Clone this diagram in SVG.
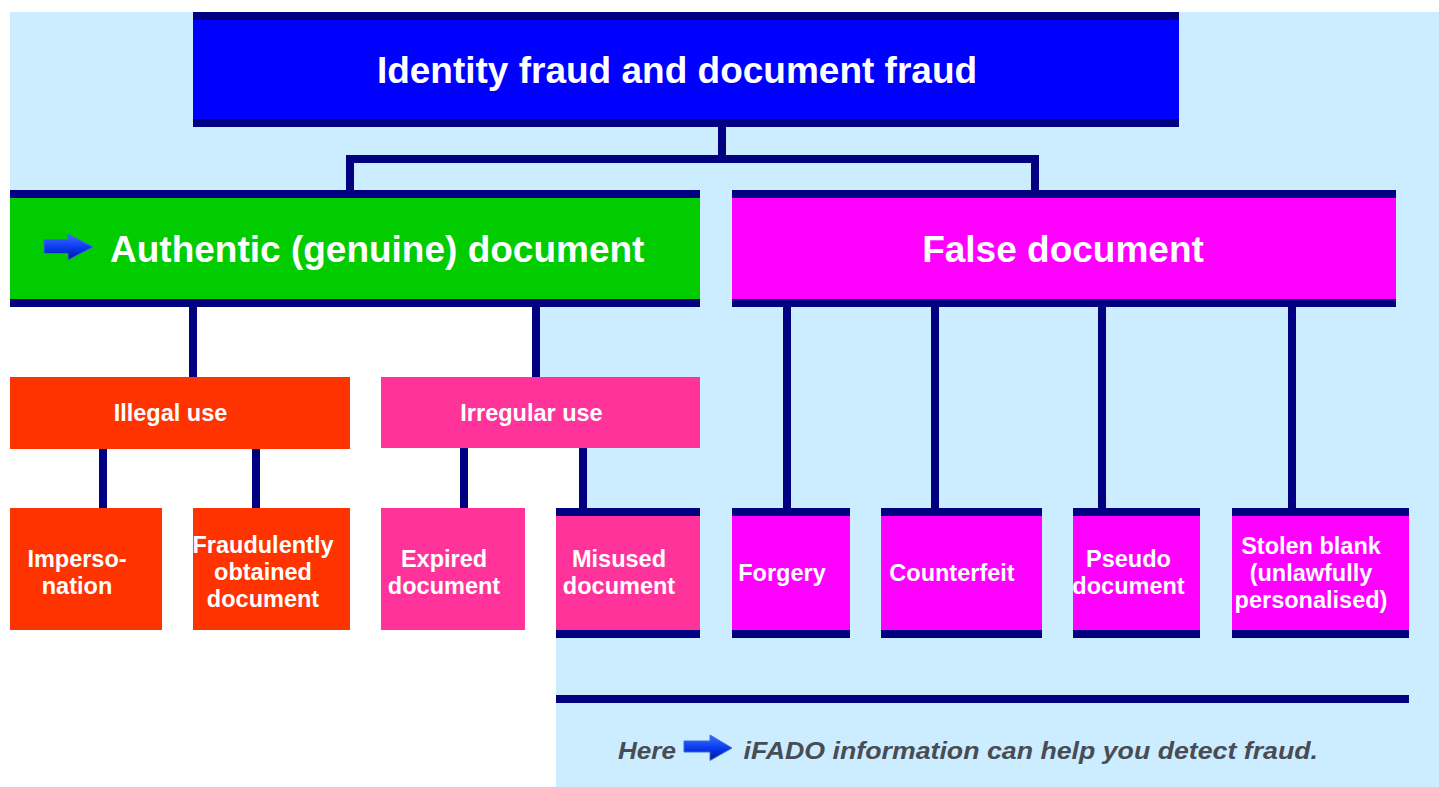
<svg xmlns="http://www.w3.org/2000/svg" width="1439" height="787" viewBox="0 0 1439 787">
<defs>
<style>
.bar{fill:#000080}
.t{font-family:"Liberation Sans",Arial,sans-serif;font-weight:bold;fill:#FFFFFF}
.big{font-size:37px}
.sm{font-size:23.5px;text-anchor:middle}
.mid{text-anchor:middle}
.con{stroke:#000080;stroke-width:8;fill:none;stroke-linejoin:miter}
.foot{font-family:"Liberation Sans",Arial,sans-serif;font-weight:bold;font-style:italic;font-size:23.5px;fill:#474C55}
.arrow{fill:url(#ag);stroke:#3a6fd0;stroke-width:1}
</style>
<linearGradient id="ag" x1="0" y1="0" x2="0" y2="1">
<stop offset="0" stop-color="#3f6dff"/>
<stop offset="0.5" stop-color="#0a3cf0"/>
<stop offset="1" stop-color="#00149a"/>
</linearGradient>
</defs>
<rect width="1439" height="787" fill="#FFFFFF"/>
<path d="M10,12 H1439 V787 H556 V508 H583 V377 H536 V307 H10 Z" fill="#CCECFF"/>
<g id="connectors">
<path class="con" d="M722,127 V159"/>
<path class="con" d="M350,190 V159 H1035 V190"/>
<path class="con" d="M193,307 V377"/>
<path class="con" d="M536,307 V377"/>
<path class="con" d="M103,449 V508"/>
<path class="con" d="M256,449 V508"/>
<path class="con" d="M464,448 V508"/>
<path class="con" d="M583,448 V508"/>
<path class="con" d="M787,307 V508"/>
<path class="con" d="M935,307 V508"/>
<path class="con" d="M1102,307 V508"/>
<path class="con" d="M1292,307 V508"/>
</g>
<g id="title">
<rect class="bar" x="193" y="12" width="986" height="115"/>
<rect x="193" y="20" width="986" height="99" fill="#0000FF"/>
<text class="t big mid" x="677" y="83">Identity fraud and document fraud</text>
</g>
<g id="authentic">
<rect class="bar" x="10" y="190" width="690" height="117"/>
<rect x="10" y="198" width="690" height="101" fill="#00CC00"/>
<polygon class="arrow" points="44,239.5 68,239.5 68,234 93,247 68,260 68,253.5 44,253.5"/>
<text class="t big" x="110" y="262">Authentic (genuine) document</text>
</g>
<g id="false">
<rect class="bar" x="732" y="190" width="664" height="117"/>
<rect x="732" y="198" width="664" height="101" fill="#FF00FF"/>
<text class="t big mid" x="1063" y="262">False document</text>
</g>
<g id="illegal">
<rect x="10" y="377" width="340" height="72" fill="#FF3300"/>
<text class="t sm" x="170.5" y="421">Illegal use</text>
</g>
<g id="irregular">
<rect x="381" y="377" width="319" height="71" fill="#FF3399"/>
<text class="t sm" x="531.5" y="421">Irregular use</text>
</g>
<g id="impersonation">
<rect x="10" y="508" width="152" height="122" fill="#FF3300"/>
<text class="t sm" x="77" y="567">Imperso-</text>
<text class="t sm" x="77" y="594">nation</text>
</g>
<g id="fraudulently">
<rect x="193" y="508" width="157" height="122" fill="#FF3300"/>
<text class="t sm" x="263" y="553">Fraudulently</text>
<text class="t sm" x="263" y="580">obtained</text>
<text class="t sm" x="263" y="607">document</text>
</g>
<g id="expired">
<rect x="381" y="508" width="144" height="122" fill="#FF3399"/>
<text class="t sm" x="444" y="567">Expired</text>
<text class="t sm" x="444" y="594">document</text>
</g>
<g id="misused">
<rect class="bar" x="556" y="508" width="144" height="130"/>
<rect x="556" y="516" width="144" height="114" fill="#FF3399"/>
<text class="t sm" x="619" y="567">Misused</text>
<text class="t sm" x="619" y="594">document</text>
</g>
<g id="forgery">
<rect class="bar" x="732" y="508" width="118" height="130"/>
<rect x="732" y="516" width="118" height="114" fill="#FF00FF"/>
<text class="t sm" x="782" y="581">Forgery</text>
</g>
<g id="counterfeit">
<rect class="bar" x="881" y="508" width="161" height="130"/>
<rect x="881" y="516" width="161" height="114" fill="#FF00FF"/>
<text class="t sm" x="952" y="581">Counterfeit</text>
</g>
<g id="pseudo">
<rect class="bar" x="1073" y="508" width="127" height="130"/>
<rect x="1073" y="516" width="127" height="114" fill="#FF00FF"/>
<text class="t sm" x="1128.5" y="567">Pseudo</text>
<text class="t sm" x="1128.5" y="594">document</text>
</g>
<g id="stolen">
<rect class="bar" x="1232" y="508" width="177" height="130"/>
<rect x="1232" y="516" width="177" height="114" fill="#FF00FF"/>
<text class="t sm" x="1311" y="554">Stolen blank</text>
<text class="t sm" x="1311" y="581">(unlawfully</text>
<text class="t sm" x="1311" y="608">personalised)</text>
</g>
<g id="footer">
<rect class="bar" x="556" y="695" width="853" height="8"/>
<text class="foot" x="618" y="759" textLength="58" lengthAdjust="spacingAndGlyphs">Here</text>
<polygon class="arrow" points="684,741 710,741 710,735 732,748 710,760.5 710,752 684,752"/>
<text class="foot" x="743.5" y="759" textLength="574.5" lengthAdjust="spacingAndGlyphs">iFADO information can help you detect fraud.</text>
</g>
</svg>
